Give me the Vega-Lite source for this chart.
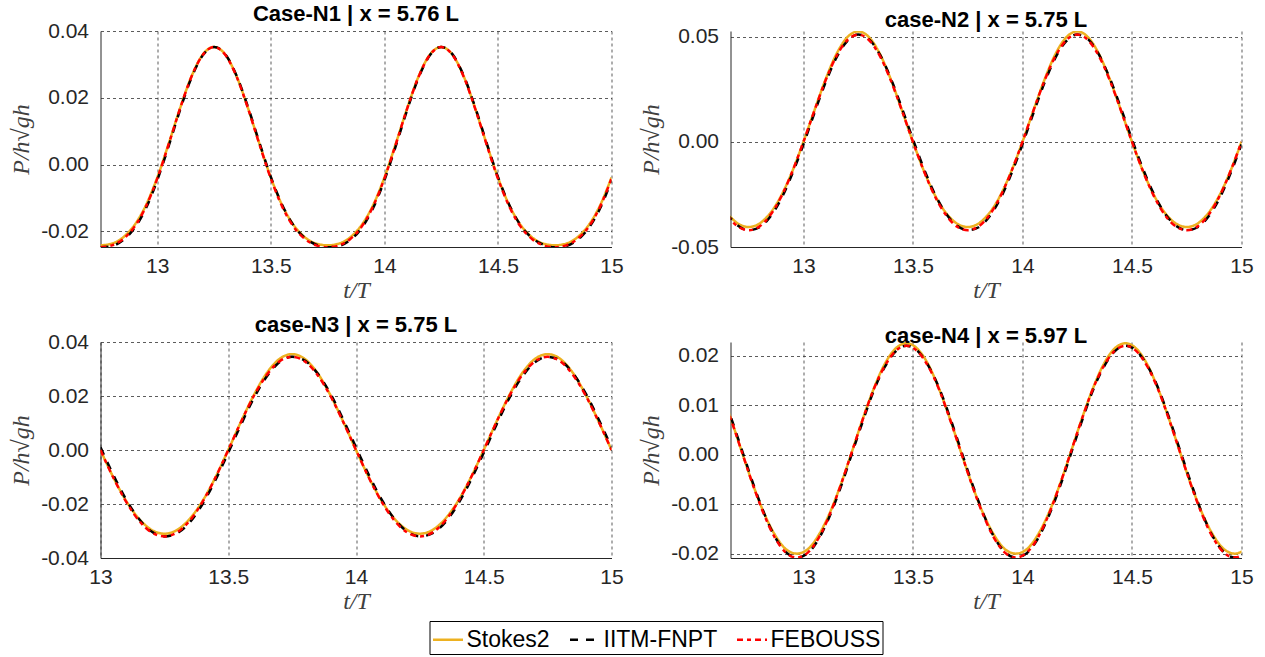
{
  "$schema": "https://vega.github.io/schema/vega-lite/v6.json",
  "padding": {"left": 9.5, "top": 3, "right": 0, "bottom": 0},
  "background": "white",
  "data": {"values": [
    {"p":1,"t":12.75,"Stokes2":-0.0242,"IITM-FNPT":-0.0248,"FEBOUSS":-0.0248},
    {"p":1,"t":12.80,"Stokes2":-0.0237,"IITM-FNPT":-0.0244,"FEBOUSS":-0.0242},
    {"p":1,"t":12.85,"Stokes2":-0.0218,"IITM-FNPT":-0.0226,"FEBOUSS":-0.0223},
    {"p":1,"t":12.90,"Stokes2":-0.0181,"IITM-FNPT":-0.0190,"FEBOUSS":-0.0186},
    {"p":1,"t":12.95,"Stokes2":-0.0122,"IITM-FNPT":-0.0131,"FEBOUSS":-0.0126},
    {"p":1,"t":13.00,"Stokes2":-0.0039,"IITM-FNPT":-0.0047,"FEBOUSS":-0.0042},
    {"p":1,"t":13.05,"Stokes2":0.0062,"IITM-FNPT":0.0055,"FEBOUSS":0.0060},
    {"p":1,"t":13.10,"Stokes2":0.0168,"IITM-FNPT":0.0163,"FEBOUSS":0.0167},
    {"p":1,"t":13.15,"Stokes2":0.0263,"IITM-FNPT":0.0259,"FEBOUSS":0.0262},
    {"p":1,"t":13.20,"Stokes2":0.0329,"IITM-FNPT":0.0327,"FEBOUSS":0.0328},
    {"p":1,"t":13.25,"Stokes2":0.0352,"IITM-FNPT":0.0352,"FEBOUSS":0.0352},
    {"p":1,"t":13.30,"Stokes2":0.0329,"IITM-FNPT":0.0330,"FEBOUSS":0.0328},
    {"p":1,"t":13.35,"Stokes2":0.0263,"IITM-FNPT":0.0265,"FEBOUSS":0.0262},
    {"p":1,"t":13.40,"Stokes2":0.0168,"IITM-FNPT":0.0171,"FEBOUSS":0.0167},
    {"p":1,"t":13.45,"Stokes2":0.0062,"IITM-FNPT":0.0065,"FEBOUSS":0.0060},
    {"p":1,"t":13.50,"Stokes2":-0.0039,"IITM-FNPT":-0.0037,"FEBOUSS":-0.0042},
    {"p":1,"t":13.55,"Stokes2":-0.0122,"IITM-FNPT":-0.0121,"FEBOUSS":-0.0126},
    {"p":1,"t":13.60,"Stokes2":-0.0181,"IITM-FNPT":-0.0182,"FEBOUSS":-0.0186},
    {"p":1,"t":13.65,"Stokes2":-0.0218,"IITM-FNPT":-0.0220,"FEBOUSS":-0.0223},
    {"p":1,"t":13.70,"Stokes2":-0.0237,"IITM-FNPT":-0.0240,"FEBOUSS":-0.0242},
    {"p":1,"t":13.75,"Stokes2":-0.0242,"IITM-FNPT":-0.0248,"FEBOUSS":-0.0248},
    {"p":1,"t":13.80,"Stokes2":-0.0237,"IITM-FNPT":-0.0244,"FEBOUSS":-0.0242},
    {"p":1,"t":13.85,"Stokes2":-0.0218,"IITM-FNPT":-0.0226,"FEBOUSS":-0.0223},
    {"p":1,"t":13.90,"Stokes2":-0.0181,"IITM-FNPT":-0.0190,"FEBOUSS":-0.0186},
    {"p":1,"t":13.95,"Stokes2":-0.0122,"IITM-FNPT":-0.0131,"FEBOUSS":-0.0126},
    {"p":1,"t":14.00,"Stokes2":-0.0039,"IITM-FNPT":-0.0047,"FEBOUSS":-0.0042},
    {"p":1,"t":14.05,"Stokes2":0.0062,"IITM-FNPT":0.0055,"FEBOUSS":0.0060},
    {"p":1,"t":14.10,"Stokes2":0.0168,"IITM-FNPT":0.0163,"FEBOUSS":0.0167},
    {"p":1,"t":14.15,"Stokes2":0.0263,"IITM-FNPT":0.0259,"FEBOUSS":0.0262},
    {"p":1,"t":14.20,"Stokes2":0.0329,"IITM-FNPT":0.0327,"FEBOUSS":0.0328},
    {"p":1,"t":14.25,"Stokes2":0.0352,"IITM-FNPT":0.0352,"FEBOUSS":0.0352},
    {"p":1,"t":14.30,"Stokes2":0.0329,"IITM-FNPT":0.0330,"FEBOUSS":0.0328},
    {"p":1,"t":14.35,"Stokes2":0.0263,"IITM-FNPT":0.0265,"FEBOUSS":0.0262},
    {"p":1,"t":14.40,"Stokes2":0.0168,"IITM-FNPT":0.0171,"FEBOUSS":0.0167},
    {"p":1,"t":14.45,"Stokes2":0.0062,"IITM-FNPT":0.0065,"FEBOUSS":0.0060},
    {"p":1,"t":14.50,"Stokes2":-0.0039,"IITM-FNPT":-0.0037,"FEBOUSS":-0.0042},
    {"p":1,"t":14.55,"Stokes2":-0.0122,"IITM-FNPT":-0.0121,"FEBOUSS":-0.0126},
    {"p":1,"t":14.60,"Stokes2":-0.0181,"IITM-FNPT":-0.0182,"FEBOUSS":-0.0186},
    {"p":1,"t":14.65,"Stokes2":-0.0218,"IITM-FNPT":-0.0220,"FEBOUSS":-0.0223},
    {"p":1,"t":14.70,"Stokes2":-0.0237,"IITM-FNPT":-0.0240,"FEBOUSS":-0.0242},
    {"p":1,"t":14.75,"Stokes2":-0.0242,"IITM-FNPT":-0.0248,"FEBOUSS":-0.0248},
    {"p":1,"t":14.80,"Stokes2":-0.0237,"IITM-FNPT":-0.0244,"FEBOUSS":-0.0242},
    {"p":1,"t":14.85,"Stokes2":-0.0218,"IITM-FNPT":-0.0226,"FEBOUSS":-0.0223},
    {"p":1,"t":14.90,"Stokes2":-0.0181,"IITM-FNPT":-0.0190,"FEBOUSS":-0.0186},
    {"p":1,"t":14.95,"Stokes2":-0.0122,"IITM-FNPT":-0.0131,"FEBOUSS":-0.0126},
    {"p":1,"t":15.00,"Stokes2":-0.0039,"IITM-FNPT":-0.0047,"FEBOUSS":-0.0042},

    {"p":2,"t":12.65,"Stokes2":-0.0337,"IITM-FNPT":-0.0340,"FEBOUSS":-0.0347},
    {"p":2,"t":12.70,"Stokes2":-0.0388,"IITM-FNPT":-0.0398,"FEBOUSS":-0.0402},
    {"p":2,"t":12.75,"Stokes2":-0.0405,"IITM-FNPT":-0.0420,"FEBOUSS":-0.0420},
    {"p":2,"t":12.80,"Stokes2":-0.0388,"IITM-FNPT":-0.0406,"FEBOUSS":-0.0402},
    {"p":2,"t":12.85,"Stokes2":-0.0337,"IITM-FNPT":-0.0354,"FEBOUSS":-0.0347},
    {"p":2,"t":12.90,"Stokes2":-0.0253,"IITM-FNPT":-0.0268,"FEBOUSS":-0.0258},
    {"p":2,"t":12.95,"Stokes2":-0.0138,"IITM-FNPT":-0.0150,"FEBOUSS":-0.0139},
    {"p":2,"t":13.00,"Stokes2":0.0000,"IITM-FNPT":-0.0012,"FEBOUSS":0.0000},
    {"p":2,"t":13.05,"Stokes2":0.0149,"IITM-FNPT":0.0137,"FEBOUSS":0.0148},
    {"p":2,"t":13.10,"Stokes2":0.0294,"IITM-FNPT":0.0279,"FEBOUSS":0.0289},
    {"p":2,"t":13.15,"Stokes2":0.0416,"IITM-FNPT":0.0399,"FEBOUSS":0.0406},
    {"p":2,"t":13.20,"Stokes2":0.0497,"IITM-FNPT":0.0479,"FEBOUSS":0.0483},
    {"p":2,"t":13.25,"Stokes2":0.0525,"IITM-FNPT":0.0510,"FEBOUSS":0.0510},
    {"p":2,"t":13.30,"Stokes2":0.0497,"IITM-FNPT":0.0487,"FEBOUSS":0.0483},
    {"p":2,"t":13.35,"Stokes2":0.0416,"IITM-FNPT":0.0413,"FEBOUSS":0.0406},
    {"p":2,"t":13.40,"Stokes2":0.0294,"IITM-FNPT":0.0299,"FEBOUSS":0.0289},
    {"p":2,"t":13.45,"Stokes2":0.0149,"IITM-FNPT":0.0159,"FEBOUSS":0.0148},
    {"p":2,"t":13.50,"Stokes2":0.0000,"IITM-FNPT":0.0012,"FEBOUSS":0.0000},
    {"p":2,"t":13.55,"Stokes2":-0.0138,"IITM-FNPT":-0.0128,"FEBOUSS":-0.0139},
    {"p":2,"t":13.60,"Stokes2":-0.0253,"IITM-FNPT":-0.0248,"FEBOUSS":-0.0258},
    {"p":2,"t":13.65,"Stokes2":-0.0337,"IITM-FNPT":-0.0340,"FEBOUSS":-0.0347},
    {"p":2,"t":13.70,"Stokes2":-0.0388,"IITM-FNPT":-0.0398,"FEBOUSS":-0.0402},
    {"p":2,"t":13.75,"Stokes2":-0.0405,"IITM-FNPT":-0.0420,"FEBOUSS":-0.0420},
    {"p":2,"t":13.80,"Stokes2":-0.0388,"IITM-FNPT":-0.0406,"FEBOUSS":-0.0402},
    {"p":2,"t":13.85,"Stokes2":-0.0337,"IITM-FNPT":-0.0354,"FEBOUSS":-0.0347},
    {"p":2,"t":13.90,"Stokes2":-0.0253,"IITM-FNPT":-0.0268,"FEBOUSS":-0.0258},
    {"p":2,"t":13.95,"Stokes2":-0.0138,"IITM-FNPT":-0.0150,"FEBOUSS":-0.0139},
    {"p":2,"t":14.00,"Stokes2":0.0000,"IITM-FNPT":-0.0012,"FEBOUSS":0.0000},
    {"p":2,"t":14.05,"Stokes2":0.0149,"IITM-FNPT":0.0137,"FEBOUSS":0.0148},
    {"p":2,"t":14.10,"Stokes2":0.0294,"IITM-FNPT":0.0279,"FEBOUSS":0.0289},
    {"p":2,"t":14.15,"Stokes2":0.0416,"IITM-FNPT":0.0399,"FEBOUSS":0.0406},
    {"p":2,"t":14.20,"Stokes2":0.0497,"IITM-FNPT":0.0479,"FEBOUSS":0.0483},
    {"p":2,"t":14.25,"Stokes2":0.0525,"IITM-FNPT":0.0510,"FEBOUSS":0.0510},
    {"p":2,"t":14.30,"Stokes2":0.0497,"IITM-FNPT":0.0487,"FEBOUSS":0.0483},
    {"p":2,"t":14.35,"Stokes2":0.0416,"IITM-FNPT":0.0413,"FEBOUSS":0.0406},
    {"p":2,"t":14.40,"Stokes2":0.0294,"IITM-FNPT":0.0299,"FEBOUSS":0.0289},
    {"p":2,"t":14.45,"Stokes2":0.0149,"IITM-FNPT":0.0159,"FEBOUSS":0.0148},
    {"p":2,"t":14.50,"Stokes2":0.0000,"IITM-FNPT":0.0012,"FEBOUSS":0.0000},
    {"p":2,"t":14.55,"Stokes2":-0.0138,"IITM-FNPT":-0.0128,"FEBOUSS":-0.0139},
    {"p":2,"t":14.60,"Stokes2":-0.0253,"IITM-FNPT":-0.0248,"FEBOUSS":-0.0258},
    {"p":2,"t":14.65,"Stokes2":-0.0337,"IITM-FNPT":-0.0340,"FEBOUSS":-0.0347},
    {"p":2,"t":14.70,"Stokes2":-0.0388,"IITM-FNPT":-0.0398,"FEBOUSS":-0.0402},
    {"p":2,"t":14.75,"Stokes2":-0.0405,"IITM-FNPT":-0.0420,"FEBOUSS":-0.0420},
    {"p":2,"t":14.80,"Stokes2":-0.0388,"IITM-FNPT":-0.0406,"FEBOUSS":-0.0402},
    {"p":2,"t":14.85,"Stokes2":-0.0337,"IITM-FNPT":-0.0354,"FEBOUSS":-0.0347},
    {"p":2,"t":14.90,"Stokes2":-0.0253,"IITM-FNPT":-0.0268,"FEBOUSS":-0.0258},
    {"p":2,"t":14.95,"Stokes2":-0.0138,"IITM-FNPT":-0.0150,"FEBOUSS":-0.0139},
    {"p":2,"t":15.00,"Stokes2":0.0000,"IITM-FNPT":-0.0012,"FEBOUSS":0.0000},

    {"p":3,"t":13.00,"Stokes2":0.0000,"IITM-FNPT":0.0010,"FEBOUSS":0.0000},
    {"p":3,"t":13.05,"Stokes2":-0.0101,"IITM-FNPT":-0.0092,"FEBOUSS":-0.0102},
    {"p":3,"t":13.10,"Stokes2":-0.0188,"IITM-FNPT":-0.0183,"FEBOUSS":-0.0191},
    {"p":3,"t":13.15,"Stokes2":-0.0254,"IITM-FNPT":-0.0255,"FEBOUSS":-0.0261},
    {"p":3,"t":13.20,"Stokes2":-0.0296,"IITM-FNPT":-0.0302,"FEBOUSS":-0.0305},
    {"p":3,"t":13.25,"Stokes2":-0.0310,"IITM-FNPT":-0.0320,"FEBOUSS":-0.0320},
    {"p":3,"t":13.30,"Stokes2":-0.0296,"IITM-FNPT":-0.0308,"FEBOUSS":-0.0305},
    {"p":3,"t":13.35,"Stokes2":-0.0254,"IITM-FNPT":-0.0267,"FEBOUSS":-0.0261},
    {"p":3,"t":13.40,"Stokes2":-0.0188,"IITM-FNPT":-0.0199,"FEBOUSS":-0.0191},
    {"p":3,"t":13.45,"Stokes2":-0.0101,"IITM-FNPT":-0.0111,"FEBOUSS":-0.0102},
    {"p":3,"t":13.50,"Stokes2":0.0000,"IITM-FNPT":-0.0010,"FEBOUSS":0.0000},
    {"p":3,"t":13.55,"Stokes2":0.0105,"IITM-FNPT":0.0094,"FEBOUSS":0.0104},
    {"p":3,"t":13.60,"Stokes2":0.0203,"IITM-FNPT":0.0192,"FEBOUSS":0.0200},
    {"p":3,"t":13.65,"Stokes2":0.0284,"IITM-FNPT":0.0271,"FEBOUSS":0.0277},
    {"p":3,"t":13.70,"Stokes2":0.0337,"IITM-FNPT":0.0325,"FEBOUSS":0.0328},
    {"p":3,"t":13.75,"Stokes2":0.0355,"IITM-FNPT":0.0345,"FEBOUSS":0.0345},
    {"p":3,"t":13.80,"Stokes2":0.0337,"IITM-FNPT":0.0331,"FEBOUSS":0.0328},
    {"p":3,"t":13.85,"Stokes2":0.0284,"IITM-FNPT":0.0283,"FEBOUSS":0.0277},
    {"p":3,"t":13.90,"Stokes2":0.0203,"IITM-FNPT":0.0208,"FEBOUSS":0.0200},
    {"p":3,"t":13.95,"Stokes2":0.0105,"IITM-FNPT":0.0113,"FEBOUSS":0.0104},
    {"p":3,"t":14.00,"Stokes2":0.0000,"IITM-FNPT":0.0010,"FEBOUSS":0.0000},
    {"p":3,"t":14.05,"Stokes2":-0.0101,"IITM-FNPT":-0.0092,"FEBOUSS":-0.0102},
    {"p":3,"t":14.10,"Stokes2":-0.0188,"IITM-FNPT":-0.0183,"FEBOUSS":-0.0191},
    {"p":3,"t":14.15,"Stokes2":-0.0254,"IITM-FNPT":-0.0255,"FEBOUSS":-0.0261},
    {"p":3,"t":14.20,"Stokes2":-0.0296,"IITM-FNPT":-0.0302,"FEBOUSS":-0.0305},
    {"p":3,"t":14.25,"Stokes2":-0.0310,"IITM-FNPT":-0.0320,"FEBOUSS":-0.0320},
    {"p":3,"t":14.30,"Stokes2":-0.0296,"IITM-FNPT":-0.0308,"FEBOUSS":-0.0305},
    {"p":3,"t":14.35,"Stokes2":-0.0254,"IITM-FNPT":-0.0267,"FEBOUSS":-0.0261},
    {"p":3,"t":14.40,"Stokes2":-0.0188,"IITM-FNPT":-0.0199,"FEBOUSS":-0.0191},
    {"p":3,"t":14.45,"Stokes2":-0.0101,"IITM-FNPT":-0.0111,"FEBOUSS":-0.0102},
    {"p":3,"t":14.50,"Stokes2":0.0000,"IITM-FNPT":-0.0010,"FEBOUSS":0.0000},
    {"p":3,"t":14.55,"Stokes2":0.0105,"IITM-FNPT":0.0094,"FEBOUSS":0.0104},
    {"p":3,"t":14.60,"Stokes2":0.0203,"IITM-FNPT":0.0192,"FEBOUSS":0.0200},
    {"p":3,"t":14.65,"Stokes2":0.0284,"IITM-FNPT":0.0271,"FEBOUSS":0.0277},
    {"p":3,"t":14.70,"Stokes2":0.0337,"IITM-FNPT":0.0325,"FEBOUSS":0.0328},
    {"p":3,"t":14.75,"Stokes2":0.0355,"IITM-FNPT":0.0345,"FEBOUSS":0.0345},
    {"p":3,"t":14.80,"Stokes2":0.0337,"IITM-FNPT":0.0331,"FEBOUSS":0.0328},
    {"p":3,"t":14.85,"Stokes2":0.0284,"IITM-FNPT":0.0283,"FEBOUSS":0.0277},
    {"p":3,"t":14.90,"Stokes2":0.0203,"IITM-FNPT":0.0208,"FEBOUSS":0.0200},
    {"p":3,"t":14.95,"Stokes2":0.0105,"IITM-FNPT":0.0113,"FEBOUSS":0.0104},
    {"p":3,"t":15.00,"Stokes2":0.0000,"IITM-FNPT":0.0010,"FEBOUSS":0.0000},

    {"p":4,"t":12.62,"Stokes2":0.0132,"IITM-FNPT":0.0134,"FEBOUSS":0.0131},
    {"p":4,"t":12.67,"Stokes2":0.0071,"IITM-FNPT":0.0074,"FEBOUSS":0.0070},
    {"p":4,"t":12.72,"Stokes2":0.0004,"IITM-FNPT":0.0008,"FEBOUSS":0.0004},
    {"p":4,"t":12.77,"Stokes2":-0.0061,"IITM-FNPT":-0.0058,"FEBOUSS":-0.0062},
    {"p":4,"t":12.82,"Stokes2":-0.0118,"IITM-FNPT":-0.0118,"FEBOUSS":-0.0121},
    {"p":4,"t":12.87,"Stokes2":-0.0162,"IITM-FNPT":-0.0166,"FEBOUSS":-0.0168},
    {"p":4,"t":12.92,"Stokes2":-0.0191,"IITM-FNPT":-0.0197,"FEBOUSS":-0.0198},
    {"p":4,"t":12.97,"Stokes2":-0.0200,"IITM-FNPT":-0.0208,"FEBOUSS":-0.0208},
    {"p":4,"t":13.02,"Stokes2":-0.0191,"IITM-FNPT":-0.0199,"FEBOUSS":-0.0198},
    {"p":4,"t":13.07,"Stokes2":-0.0162,"IITM-FNPT":-0.0170,"FEBOUSS":-0.0168},
    {"p":4,"t":13.12,"Stokes2":-0.0118,"IITM-FNPT":-0.0124,"FEBOUSS":-0.0121},
    {"p":4,"t":13.17,"Stokes2":-0.0061,"IITM-FNPT":-0.0066,"FEBOUSS":-0.0062},
    {"p":4,"t":13.22,"Stokes2":0.0004,"IITM-FNPT":0.0000,"FEBOUSS":0.0004},
    {"p":4,"t":13.27,"Stokes2":0.0071,"IITM-FNPT":0.0066,"FEBOUSS":0.0070},
    {"p":4,"t":13.32,"Stokes2":0.0132,"IITM-FNPT":0.0128,"FEBOUSS":0.0131},
    {"p":4,"t":13.37,"Stokes2":0.0182,"IITM-FNPT":0.0176,"FEBOUSS":0.0178},
    {"p":4,"t":13.42,"Stokes2":0.0214,"IITM-FNPT":0.0208,"FEBOUSS":0.0209},
    {"p":4,"t":13.47,"Stokes2":0.0225,"IITM-FNPT":0.0220,"FEBOUSS":0.0220},
    {"p":4,"t":13.52,"Stokes2":0.0214,"IITM-FNPT":0.0210,"FEBOUSS":0.0209},
    {"p":4,"t":13.57,"Stokes2":0.0182,"IITM-FNPT":0.0180,"FEBOUSS":0.0178},
    {"p":4,"t":13.62,"Stokes2":0.0132,"IITM-FNPT":0.0134,"FEBOUSS":0.0131},
    {"p":4,"t":13.67,"Stokes2":0.0071,"IITM-FNPT":0.0074,"FEBOUSS":0.0070},
    {"p":4,"t":13.72,"Stokes2":0.0004,"IITM-FNPT":0.0008,"FEBOUSS":0.0004},
    {"p":4,"t":13.77,"Stokes2":-0.0061,"IITM-FNPT":-0.0058,"FEBOUSS":-0.0062},
    {"p":4,"t":13.82,"Stokes2":-0.0118,"IITM-FNPT":-0.0118,"FEBOUSS":-0.0121},
    {"p":4,"t":13.87,"Stokes2":-0.0162,"IITM-FNPT":-0.0166,"FEBOUSS":-0.0168},
    {"p":4,"t":13.92,"Stokes2":-0.0191,"IITM-FNPT":-0.0197,"FEBOUSS":-0.0198},
    {"p":4,"t":13.97,"Stokes2":-0.0200,"IITM-FNPT":-0.0208,"FEBOUSS":-0.0208},
    {"p":4,"t":14.02,"Stokes2":-0.0191,"IITM-FNPT":-0.0199,"FEBOUSS":-0.0198},
    {"p":4,"t":14.07,"Stokes2":-0.0162,"IITM-FNPT":-0.0170,"FEBOUSS":-0.0168},
    {"p":4,"t":14.12,"Stokes2":-0.0118,"IITM-FNPT":-0.0124,"FEBOUSS":-0.0121},
    {"p":4,"t":14.17,"Stokes2":-0.0061,"IITM-FNPT":-0.0066,"FEBOUSS":-0.0062},
    {"p":4,"t":14.22,"Stokes2":0.0004,"IITM-FNPT":0.0000,"FEBOUSS":0.0004},
    {"p":4,"t":14.27,"Stokes2":0.0071,"IITM-FNPT":0.0066,"FEBOUSS":0.0070},
    {"p":4,"t":14.32,"Stokes2":0.0132,"IITM-FNPT":0.0128,"FEBOUSS":0.0131},
    {"p":4,"t":14.37,"Stokes2":0.0182,"IITM-FNPT":0.0176,"FEBOUSS":0.0178},
    {"p":4,"t":14.42,"Stokes2":0.0214,"IITM-FNPT":0.0208,"FEBOUSS":0.0209},
    {"p":4,"t":14.47,"Stokes2":0.0225,"IITM-FNPT":0.0220,"FEBOUSS":0.0220},
    {"p":4,"t":14.52,"Stokes2":0.0214,"IITM-FNPT":0.0210,"FEBOUSS":0.0209},
    {"p":4,"t":14.57,"Stokes2":0.0182,"IITM-FNPT":0.0180,"FEBOUSS":0.0178},
    {"p":4,"t":14.62,"Stokes2":0.0132,"IITM-FNPT":0.0134,"FEBOUSS":0.0131},
    {"p":4,"t":14.67,"Stokes2":0.0071,"IITM-FNPT":0.0074,"FEBOUSS":0.0070},
    {"p":4,"t":14.72,"Stokes2":0.0004,"IITM-FNPT":0.0008,"FEBOUSS":0.0004},
    {"p":4,"t":14.77,"Stokes2":-0.0061,"IITM-FNPT":-0.0058,"FEBOUSS":-0.0062},
    {"p":4,"t":14.82,"Stokes2":-0.0118,"IITM-FNPT":-0.0118,"FEBOUSS":-0.0121},
    {"p":4,"t":14.87,"Stokes2":-0.0162,"IITM-FNPT":-0.0166,"FEBOUSS":-0.0168},
    {"p":4,"t":14.92,"Stokes2":-0.0191,"IITM-FNPT":-0.0197,"FEBOUSS":-0.0198},
    {"p":4,"t":14.97,"Stokes2":-0.0200,"IITM-FNPT":-0.0208,"FEBOUSS":-0.0208},
    {"p":4,"t":15.02,"Stokes2":-0.0191,"IITM-FNPT":-0.0199,"FEBOUSS":-0.0198}
  ]},
  "transform": [{"fold": ["Stokes2", "IITM-FNPT", "FEBOUSS"], "as": ["series", "v"]}],
  "bounds": "flush",
  "columns": 2,
  "spacing": {"row": 95, "column": 119},
  "concat": [
    {
      "title": "Case-N1 | x = 5.76 L",
      "width": 511, "height": 216,
      "transform": [{"filter": "datum.p == 1"}],
      "mark": {"type": "line", "clip": true, "interpolate": "monotone", "strokeWidth": 2.5},
      "encoding": {
        "x": {"field": "t", "type": "quantitative", "scale": {"domain": [12.75, 15], "nice": false, "zero": false}, "axis": {"values": [13, 13.5, 14, 14.5, 15], "format": "~g", "title": "t/T"}},
        "y": {"field": "v", "type": "quantitative", "scale": {"domain": [-0.0247, 0.04], "nice": false, "zero": false}, "axis": {"values": [-0.02, 0, 0.02, 0.04], "title": "P/h√gh", "labelExpr": "replace(format(datum.value, '.2f'), '−', '-')"}},
        "color": {"field": "series", "type": "nominal", "scale": {"domain": ["Stokes2", "IITM-FNPT", "FEBOUSS"], "range": ["#EDB120", "#000000", "#FF0000"]}, "legend": {"title": null, "orient": "none", "legendX": 329, "legendY": 590, "direction": "horizontal"}},
        "strokeDash": {"field": "series", "type": "nominal", "scale": {"domain": ["Stokes2", "IITM-FNPT", "FEBOUSS"], "range": [[1, 0], [8, 8], [6, 4, 4, 4]]}, "legend": {"title": null, "orient": "none", "legendX": 329, "legendY": 590, "direction": "horizontal"}}
      }
    },
    {
      "title": "case-N2 | x = 5.75 L",
      "width": 511, "height": 216,
      "transform": [{"filter": "datum.p == 2"}],
      "mark": {"type": "line", "clip": true, "interpolate": "monotone", "strokeWidth": 2.5},
      "encoding": {
        "x": {"field": "t", "type": "quantitative", "scale": {"domain": [12.667, 15], "nice": false, "zero": false}, "axis": {"values": [13, 13.5, 14, 14.5, 15], "format": "~g", "title": "t/T"}},
        "y": {"field": "v", "type": "quantitative", "scale": {"domain": [-0.05, 0.0527], "nice": false, "zero": false}, "axis": {"values": [-0.05, 0, 0.05], "title": "P/h√gh", "labelExpr": "replace(format(datum.value, '.2f'), '−', '-')"}},
        "color": {"field": "series", "type": "nominal", "scale": {"domain": ["Stokes2", "IITM-FNPT", "FEBOUSS"], "range": ["#EDB120", "#000000", "#FF0000"]}, "legend": {"title": null, "orient": "none", "legendX": 329, "legendY": 590, "direction": "horizontal"}},
        "strokeDash": {"field": "series", "type": "nominal", "scale": {"domain": ["Stokes2", "IITM-FNPT", "FEBOUSS"], "range": [[1, 0], [8, 8], [6, 4, 4, 4]]}, "legend": {"title": null, "orient": "none", "legendX": 329, "legendY": 590, "direction": "horizontal"}}
      }
    },
    {
      "title": "case-N3 | x = 5.75 L",
      "width": 511, "height": 216,
      "transform": [{"filter": "datum.p == 3"}],
      "mark": {"type": "line", "clip": true, "interpolate": "monotone", "strokeWidth": 2.5},
      "encoding": {
        "x": {"field": "t", "type": "quantitative", "scale": {"domain": [13, 15], "nice": false, "zero": false}, "axis": {"values": [13, 13.5, 14, 14.5, 15], "format": "~g", "title": "t/T"}},
        "y": {"field": "v", "type": "quantitative", "scale": {"domain": [-0.04, 0.04], "nice": false, "zero": false}, "axis": {"values": [-0.04, -0.02, 0, 0.02, 0.04], "title": "P/h√gh", "labelExpr": "replace(format(datum.value, '.2f'), '−', '-')"}},
        "color": {"field": "series", "type": "nominal", "scale": {"domain": ["Stokes2", "IITM-FNPT", "FEBOUSS"], "range": ["#EDB120", "#000000", "#FF0000"]}, "legend": {"title": null, "orient": "none", "legendX": 329, "legendY": 590, "direction": "horizontal"}},
        "strokeDash": {"field": "series", "type": "nominal", "scale": {"domain": ["Stokes2", "IITM-FNPT", "FEBOUSS"], "range": [[1, 0], [8, 8], [6, 4, 4, 4]]}, "legend": {"title": null, "orient": "none", "legendX": 329, "legendY": 590, "direction": "horizontal"}}
      }
    },
    {
      "title": "case-N4 | x = 5.97 L",
      "width": 511, "height": 216,
      "transform": [{"filter": "datum.p == 4"}],
      "mark": {"type": "line", "clip": true, "interpolate": "monotone", "strokeWidth": 2.5},
      "encoding": {
        "x": {"field": "t", "type": "quantitative", "scale": {"domain": [12.667, 15], "nice": false, "zero": false}, "axis": {"values": [13, 13.5, 14, 14.5, 15], "format": "~g", "title": "t/T"}},
        "y": {"field": "v", "type": "quantitative", "scale": {"domain": [-0.02088, 0.02275], "nice": false, "zero": false}, "axis": {"values": [-0.02, -0.01, 0, 0.01, 0.02], "title": "P/h√gh", "labelExpr": "replace(format(datum.value, '.2f'), '−', '-')"}},
        "color": {"field": "series", "type": "nominal", "scale": {"domain": ["Stokes2", "IITM-FNPT", "FEBOUSS"], "range": ["#EDB120", "#000000", "#FF0000"]}, "legend": {"title": null, "orient": "none", "legendX": 329, "legendY": 590, "direction": "horizontal"}},
        "strokeDash": {"field": "series", "type": "nominal", "scale": {"domain": ["Stokes2", "IITM-FNPT", "FEBOUSS"], "range": [[1, 0], [8, 8], [6, 4, 4, 4]]}, "legend": {"title": null, "orient": "none", "legendX": 329, "legendY": 590, "direction": "horizontal"}}
      }
    }
  ],
  "config": {
    "view": {"stroke": null},
    "title": {"font": "Liberation Sans", "fontSize": 22, "fontWeight": "bold", "color": "#000000", "offset": -6},
    "axis": {
      "labelFont": "Liberation Sans", "labelFontSize": 21, "labelColor": "#262626",
      "titleFont": "Liberation Serif", "titleFontStyle": "italic", "titleFontWeight": "normal", "titleFontSize": 24, "titleColor": "#404040",
      "domainColor": "#262626", "domainWidth": 1, "ticks": false,
      "gridColor": "#333333", "gridDash": [3, 3], "gridOpacity": 0.8, "gridWidth": 1,
      "labelOverlap": false, "labelFlush": false
    },
    "axisX": {"labelPadding": 8, "titlePadding": 2},
    "axisY": {"labelPadding": 12, "titlePadding": 7},
    "legend": {
      "strokeColor": "#000000", "padding": 2, "fillColor": "white",
      "labelFont": "Liberation Sans", "labelFontSize": 23, "labelColor": "#000000", "labelOffset": 2,
      "symbolType": "stroke", "symbolSize": 900, "symbolStrokeWidth": 2.5, "columnPadding": 14,
      "labelLimit": 300
    }
  }
}
